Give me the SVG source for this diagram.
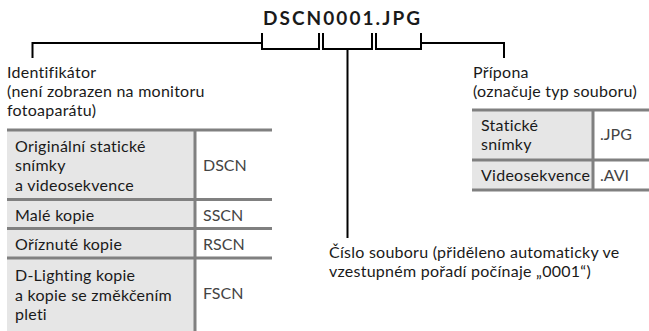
<svg xmlns="http://www.w3.org/2000/svg" width="649" height="331" viewBox="0 0 649 331">
<style>
.t{font-family:Lato,"Open Sans",sans-serif;font-size:16px;letter-spacing:0.25px;fill:#1a1a1a}
.c{font-family:Lato,"Open Sans",sans-serif;font-size:16px;fill:#444}
.ttl{font-family:Lato,"Open Sans",sans-serif;font-size:19px;font-weight:bold;fill:#1a1a1a}
.conn{fill:none;stroke:#000;stroke-width:2}
.grid{fill:none;stroke:#808080;stroke-width:3}
.cell{fill:#e6e6e6}
</style>
<rect width="649" height="331" fill="#fff"/>
<g id="title">
<text class="ttl" x="263" y="25" textLength="157" lengthAdjust="spacing">DSCN0001.JPG</text>
</g>
<g id="connectors">
<path class="conn" d="M32.5,58 V43 H262"/>
<path class="conn" d="M262,33 V49 H319 V33"/>
<path class="conn" d="M323,33 V49 H372 V33"/>
<path class="conn" d="M376,33 V49 H421 V33"/>
<path class="conn" d="M347.5,49 V238"/>
<path class="conn" d="M421,43 H504 V58"/>
</g>
<g id="identifier">
<text class="t" x="7" y="78">Identifikátor</text>
<text class="t" x="7" y="97">(není zobrazen na monitoru</text>
<text class="t" x="7" y="116">fotoaparátu)</text>
</g>
<g id="extension">
<text class="t" x="473" y="78">Přípona</text>
<text class="t" x="473" y="97">(označuje typ souboru)</text>
</g>
<g id="number">
<text class="t" x="329" y="258">Číslo souboru (přiděleno automaticky ve</text>
<text class="t" x="329" y="277">vzestupném pořadí počínaje „0001“)</text>
</g>
<g id="prefix-table">
<rect class="cell" x="7" y="130" width="188" height="201"/>
<path class="grid" d="M7,130 H272 M7,199.5 H272 M7,228.5 H272 M7,258 H272 M195,130 V331"/>
<text class="t" x="15" y="151.5">Originální statické</text>
<text class="t" x="15" y="171">snímky</text>
<text class="t" x="15" y="190.5">a videosekvence</text>
<text class="c" x="203" y="170.5">DSCN</text>
<text class="t" x="15" y="220.5">Malé kopie</text>
<text class="c" x="203" y="220.5">SSCN</text>
<text class="t" x="15" y="250">Oříznuté kopie</text>
<text class="c" x="203" y="250">RSCN</text>
<text class="t" x="15" y="281">D-Lighting kopie</text>
<text class="t" x="15" y="300.5">a kopie se změkčením</text>
<text class="t" x="15" y="320">pleti</text>
<text class="c" x="203" y="299">FSCN</text>
</g>
<g id="extension-table">
<rect class="cell" x="472" y="110" width="121" height="80"/>
<path class="grid" d="M472,110 H649 M472,160 H649 M472,190 H649 M593,110 V190"/>
<text class="t" x="481" y="130.5">Statické</text>
<text class="t" x="481" y="150">snímky</text>
<text class="c" x="600" y="140">.JPG</text>
<text class="t" x="481" y="181">Videosekvence</text>
<text class="c" x="600" y="181">.AVI</text>
</g>
</svg>
